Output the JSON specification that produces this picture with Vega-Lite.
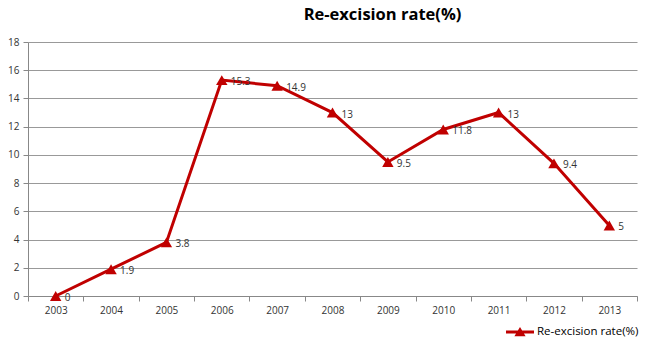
{
  "$schema": "https://vega.github.io/schema/vega-lite/v6.json",
  "width": 609,
  "height": 254,
  "autosize": {"type": "none"},
  "padding": {"left": 28, "top": 42, "right": 19, "bottom": 42},
  "background": "white",
  "title": {"text": "Re-excision rate(%)", "font": "Open Sans", "fontSize": 16.5, "fontWeight": "bold", "color": "#000", "dx": 50, "offset": 14},
  "data": {"values": [
    {"year": "2003", "rate": 0},
    {"year": "2004", "rate": 1.9},
    {"year": "2005", "rate": 3.8},
    {"year": "2006", "rate": 15.3},
    {"year": "2007", "rate": 14.9},
    {"year": "2008", "rate": 13},
    {"year": "2009", "rate": 9.5},
    {"year": "2010", "rate": 11.8},
    {"year": "2011", "rate": 13},
    {"year": "2012", "rate": 9.4},
    {"year": "2013", "rate": 5}
  ]},
  "encoding": {
    "x": {"field": "year", "type": "ordinal", "scale": {"type": "band", "paddingInner": 0, "paddingOuter": 0},
      "axis": {"title": null, "labelAngle": 0, "labelFont": "Open Sans", "labelFontSize": 10, "labelColor": "#333", "domainColor": "#888", "tickColor": "#888", "tickBand": "extent", "tickSize": 5, "labelPadding": 4}},
    "y": {"field": "rate", "type": "quantitative", "scale": {"domain": [0, 18]},
      "axis": {"title": null, "values": [0,2,4,6,8,10,12,14,16,18], "labelFont": "Open Sans", "labelFontSize": 10, "labelColor": "#333", "domainColor": "#888", "tickColor": "#888", "tickSize": 5, "gridColor": "#999", "labelPadding": 4}}
  },
  "layer": [
    {"mark": {"type": "line", "color": "#C00000", "strokeWidth": 3}},
    {"mark": {"type": "point", "shape": "triangle-up", "filled": true, "size": 130, "opacity": 1},
      "encoding": {"color": {"datum": "Re-excision rate(%)", "scale": {"range": ["#C00000"]},
        "legend": {"title": null, "orient": "none", "legendX": 478, "legendY": 276, "symbolType": "M-1,-0.1L1,-0.1L1,0.1L-1,0.1Z M-0.4,0.3L0,-0.36L0.4,0.3Z", "symbolSize": 784, "symbolStrokeWidth": 0, "symbolFillColor": "#C00000", "labelFont": "Open Sans", "labelFontSize": 11.5, "labelColor": "#000", "labelOffset": 3, "symbolOffset": 0}}}},
    {"mark": {"type": "text", "align": "left", "dx": 9, "dy": 2, "font": "Open Sans", "fontSize": 10, "color": "#333"},
      "encoding": {"text": {"field": "rate", "type": "quantitative"}}}
  ],
  "config": {"view": {"stroke": null}}
}
